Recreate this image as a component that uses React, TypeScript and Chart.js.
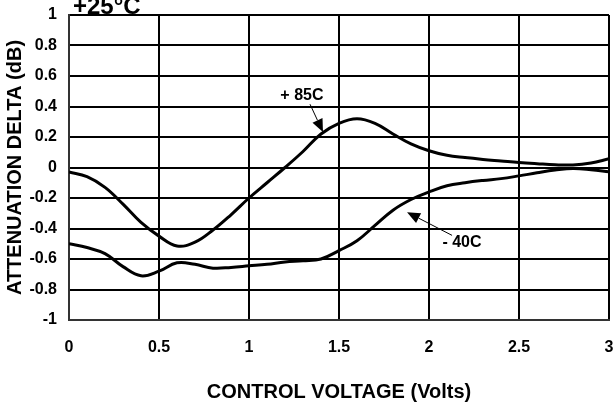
import React, { useEffect, useRef } from "react";
import { Chart, registerables } from "chart.js";

Chart.register(...registerables);

// Control voltage (V)
const voltage = [0, 0.1, 0.2, 0.3, 0.4, 0.5, 0.6, 0.7, 0.8, 0.9, 1.0, 1.1, 1.2, 1.3, 1.4, 1.5, 1.6, 1.7, 1.8, 1.9, 2.0, 2.1, 2.2, 2.3, 2.4, 2.5, 2.6, 2.7, 2.8, 2.9, 3.0];
// Attenuation delta at +85C (dB)
const hot85 = [-0.03, -0.06, -0.13, -0.24, -0.36, -0.45, -0.515, -0.49, -0.41, -0.31, -0.2, -0.1, 0.0, 0.105, 0.22, 0.29, 0.32, 0.29, 0.22, 0.155, 0.11, 0.08, 0.065, 0.053, 0.043, 0.033, 0.025, 0.018, 0.017, 0.03, 0.057];
// Attenuation delta at -40C (dB)
const cold40 = [-0.5, -0.525, -0.565, -0.65, -0.71, -0.68, -0.625, -0.635, -0.66, -0.655, -0.645, -0.635, -0.62, -0.612, -0.6, -0.545, -0.48, -0.38, -0.28, -0.21, -0.16, -0.12, -0.1, -0.085, -0.073, -0.055, -0.035, -0.017, -0.006, -0.014, -0.028];

const xTicks = [0, 0.5, 1, 1.5, 2, 2.5, 3];
const yTicks = [-1, -0.8, -0.6, -0.4, -0.2, 0, 0.2, 0.4, 0.6, 0.8, 1];

const chartTitle = "+25°C";
const xTitle = "CONTROL VOLTAGE (Volts)";
const yTitle = "ATTENUATION DELTA (dB)";

// annotations: label text, label position, arrow start, arrow tip (data coords)
const annotations = [
  { text: "+ 85C", label: [1.294, 0.474], from: [1.339, 0.415], to: [1.411, 0.232] },
  { text: "- 40C", label: [2.183, -0.491], from: [2.128, -0.445], to: [1.878, -0.293] },
];

const FONT = "'Liberation Sans', Arial, sans-serif";

const fmt = (v: number) => String(Math.round(v * 10) / 10);

export default function App() {
  const ref = useRef<HTMLCanvasElement | null>(null);

  useEffect(() => {
    document.body.style.margin = "0";
    const canvas = ref.current;
    if (!canvas) return;

    const overlay = {
      id: "overlay",
      afterDraw(chart: any) {
        const { ctx, chartArea, scales } = chart;
        const xs = scales.x;
        const ys = scales.y;
        ctx.save();
        // title
        ctx.fillStyle = "#000";
        ctx.font = `bold 24px ${FONT}`;
        ctx.textAlign = "left";
        ctx.textBaseline = "alphabetic";
        ctx.fillText(chartTitle, chartArea.left + 4, chartArea.top - 1);
        // annotations
        for (const a of annotations) {
          ctx.font = `bold 16px ${FONT}`;
          ctx.textAlign = "center";
          ctx.textBaseline = "middle";
          ctx.fillText(a.text, xs.getPixelForValue(a.label[0]), ys.getPixelForValue(a.label[1]));
          const x1 = xs.getPixelForValue(a.from[0]);
          const y1 = ys.getPixelForValue(a.from[1]);
          const x2 = xs.getPixelForValue(a.to[0]);
          const y2 = ys.getPixelForValue(a.to[1]);
          const ang = Math.atan2(y2 - y1, x2 - x1);
          const hl = 13;
          const hw = 5.5;
          const bx = x2 - hl * Math.cos(ang);
          const by = y2 - hl * Math.sin(ang);
          ctx.strokeStyle = "#000";
          ctx.lineWidth = 1;
          ctx.beginPath();
          ctx.moveTo(x1, y1);
          ctx.lineTo(bx, by);
          ctx.stroke();
          ctx.beginPath();
          ctx.moveTo(x2, y2);
          ctx.lineTo(bx + hw * Math.sin(ang), by - hw * Math.cos(ang));
          ctx.lineTo(bx - hw * Math.sin(ang), by + hw * Math.cos(ang));
          ctx.closePath();
          ctx.fill();
        }
        ctx.restore();
      },
    };

    const zeroPad = (s: any) => {
      s.paddingTop = 0;
      s.paddingBottom = 0;
      s.paddingLeft = 0;
      s.paddingRight = 0;
    };

    const chart = new Chart(canvas, {
      type: "line",
      data: {
        datasets: [
          {
            label: "+85C",
            data: voltage.map((v, i) => ({ x: v, y: hot85[i] })),
            borderColor: "#000",
            borderWidth: 3,
            pointRadius: 0,
            tension: 0.4,
            fill: false,
          },
          {
            label: "-40C",
            data: voltage.map((v, i) => ({ x: v, y: cold40[i] })),
            borderColor: "#000",
            borderWidth: 3,
            pointRadius: 0,
            tension: 0.4,
            fill: false,
          },
        ],
      },
      options: {
        responsive: false,
        animation: false,
        layout: { padding: { top: 15, right: 6, left: 0, bottom: 0 } },
        plugins: { legend: { display: false }, tooltip: { enabled: false }, title: { display: false } },
        scales: {
          x: {
            type: "linear",
            min: 0,
            max: 3,
            afterFit: (s: any) => { s.height = 88; zeroPad(s); },
            afterBuildTicks: (s: any) => { s.ticks = xTicks.map((v) => ({ value: v })); },
            ticks: {
              callback: (v: any) => fmt(Number(v)),
              color: "#000",
              font: { family: FONT, size: 16, weight: "bold" },
              padding: 18,
              maxRotation: 0,
              autoSkip: false,
            },
            grid: { color: "#000", lineWidth: 2, drawTicks: false },
            border: { color: "#333", width: 2 },
            title: {
              display: true,
              text: xTitle,
              color: "#000",
              font: { family: FONT, size: 20, weight: "bold" },
              padding: { top: 0, bottom: 4 },
            },
          },
          y: {
            type: "linear",
            min: -1,
            max: 1,
            afterFit: (s: any) => { s.width = 69; zeroPad(s); },
            afterBuildTicks: (s: any) => { s.ticks = yTicks.map((v) => ({ value: v })); },
            ticks: {
              callback: (v: any) => fmt(Number(v)),
              color: "#000",
              font: { family: FONT, size: 16, weight: "bold" },
              padding: 12,
              autoSkip: false,
            },
            grid: { color: "#000", lineWidth: 2, drawTicks: false },
            border: { color: "#333", width: 2 },
            title: {
              display: true,
              text: yTitle,
              color: "#000",
              font: { family: FONT, size: 20, weight: "bold" },
              padding: { top: 3, bottom: 0 },
            },
          },
        },
      },
      plugins: [overlay],
    } as any);

    return () => chart.destroy();
  }, []);

  return (
    <div style={{ width: 615, height: 408, background: "#fff" }}>
      <canvas ref={ref} width={615} height={408} style={{ display: "block" }} />
    </div>
  );
}
